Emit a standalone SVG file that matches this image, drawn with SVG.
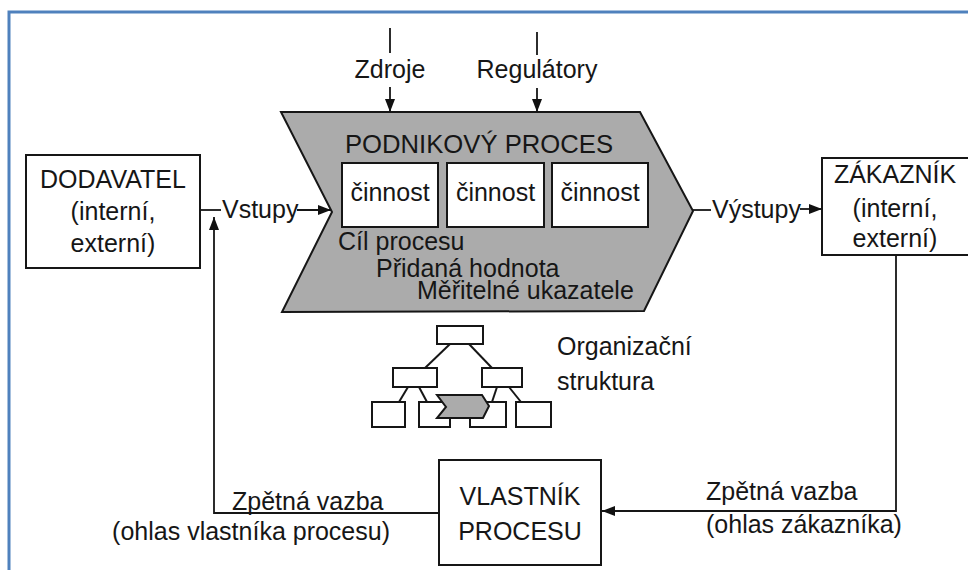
<svg xmlns="http://www.w3.org/2000/svg" width="968" height="570" viewBox="0 0 968 570">
  <defs>
    <marker id="arrow" markerUnits="userSpaceOnUse" markerWidth="13" markerHeight="10" refX="13" refY="5" orient="auto">
      <path d="M0,0 L13,5 L0,10 z" fill="#111"/>
    </marker>
    <style>
      text { font-family: "Liberation Sans", Arial, sans-serif; font-size: 25px; fill: #161616; }
      .mid { text-anchor: middle; }
      .box { fill: #fff; stroke: #161616; stroke-width: 2; }
      .proc { fill: #ababab; stroke: #161616; stroke-width: 2; stroke-linejoin: miter; }
      .wire { fill: none; stroke: #161616; stroke-width: 1.8; }
      .arr { fill: none; stroke: #161616; stroke-width: 1.8; marker-end: url(#arrow); }
      .org { fill: #fff; stroke: #161616; stroke-width: 2; }
      .orgl { stroke: #161616; stroke-width: 2; }
    </style>
  </defs>

  <rect width="968" height="570" fill="#fff"/>
  <!-- page frame -->
  <rect x="9" y="12" width="980" height="580" fill="none" stroke="#4f81bd" stroke-width="3"/>

  <!-- supplier -->
  <g id="dodavatel">
    <rect class="box" x="26" y="155" width="174" height="113"/>
    <text class="mid" x="113" y="188">DODAVATEL</text>
    <text class="mid" x="113" y="220">(interní,</text>
    <text class="mid" x="113" y="252">externí)</text>
  </g>

  <!-- customer -->
  <g id="zakaznik">
    <rect class="box" x="822" y="158" width="160" height="97"/>
    <text class="mid" x="895" y="183">ZÁKAZNÍK</text>
    <text class="mid" x="895" y="217">(interní,</text>
    <text class="mid" x="895" y="247">externí)</text>
  </g>

  <!-- business process chevron -->
  <g id="proces">
    <polygon class="proc" points="281,112 640,112 693,211 644,311 282,312 332,212"/>
    <text x="345" y="153" textLength="268" lengthAdjust="spacingAndGlyphs">PODNIKOVÝ PROCES</text>
    <rect class="box" x="342" y="163" width="96" height="64"/>
    <rect class="box" x="447" y="163" width="97" height="64"/>
    <rect class="box" x="552" y="163" width="96" height="64"/>
    <text class="mid" x="390" y="201">činnost</text>
    <text class="mid" x="495.5" y="201">činnost</text>
    <text class="mid" x="600" y="201">činnost</text>
    <text x="338" y="250">Cíl procesu</text>
    <text x="376" y="277">Přidaná hodnota</text>
    <text x="417" y="299">Měřitelné ukazatele</text>
  </g>

  <!-- resources and regulators -->
  <g id="zdroje">
    <text class="mid" x="390" y="78">Zdroje</text>
  </g>
  <g id="regulatory">
    <text class="mid" x="537" y="78">Regulátory</text>
  </g>

  <!-- organisational structure -->
  <g id="organizace">
    <line class="orgl" x1="450" y1="344" x2="425" y2="368"/>
    <line class="orgl" x1="469" y1="344" x2="492" y2="368"/>
    <line class="orgl" x1="408" y1="387" x2="399" y2="402"/>
    <line class="orgl" x1="419" y1="387" x2="427" y2="402"/>
    <line class="orgl" x1="497" y1="387" x2="492" y2="402"/>
    <line class="orgl" x1="509" y1="387" x2="521" y2="402"/>
    <rect class="org" x="437" y="326" width="46" height="18"/>
    <rect class="org" x="393" y="368" width="44" height="19"/>
    <rect class="org" x="482" y="368" width="40" height="19"/>
    <rect class="org" x="372" y="402" width="33" height="25"/>
    <rect class="org" x="419" y="402" width="31" height="25"/>
    <rect class="org" x="470" y="402" width="36" height="25"/>
    <rect class="org" x="516" y="402" width="35" height="25"/>
    <polygon class="proc" points="437,395 482,395 489,406 483,418 437,418 446,407"/>
    <text x="557" y="355">Organizační</text>
    <text x="557" y="390">struktura</text>
  </g>

  <!-- process owner -->
  <g id="vlastnik">
    <rect class="box" x="439" y="460" width="162" height="105"/>
    <text class="mid" x="520" y="505">VLASTNÍK</text>
    <text class="mid" x="520" y="540">PROCESU</text>
  </g>

  <!-- connectors -->
  <g id="connectors">
    <line class="wire" x1="390" y1="28" x2="390" y2="53"/>
    <line class="arr" x1="390" y1="87" x2="390" y2="112"/>
    <line class="wire" x1="537" y1="32" x2="537" y2="55"/>
    <line class="arr" x1="537" y1="88" x2="537" y2="112"/>

    <line class="wire" x1="200" y1="210" x2="221" y2="210"/>
    <text x="222" y="218">Vstupy</text>
    <line class="arr" x1="297" y1="210" x2="331" y2="210"/>

    <line class="wire" x1="693" y1="210" x2="711" y2="210"/>
    <text x="712" y="218">Výstupy</text>
    <line class="arr" x1="800" y1="209" x2="822" y2="209"/>

    <path class="arr" d="M896,255 V511 H602"/>
    <text x="706" y="500">Zpětná vazba</text>
    <text x="706" y="533">(ohlas zákazníka)</text>

    <path class="arr" d="M439,513 H214 V217"/>
    <text x="232" y="510">Zpětná vazba</text>
    <text x="390" y="540" text-anchor="end">(ohlas vlastníka procesu)</text>
  </g>
</svg>
